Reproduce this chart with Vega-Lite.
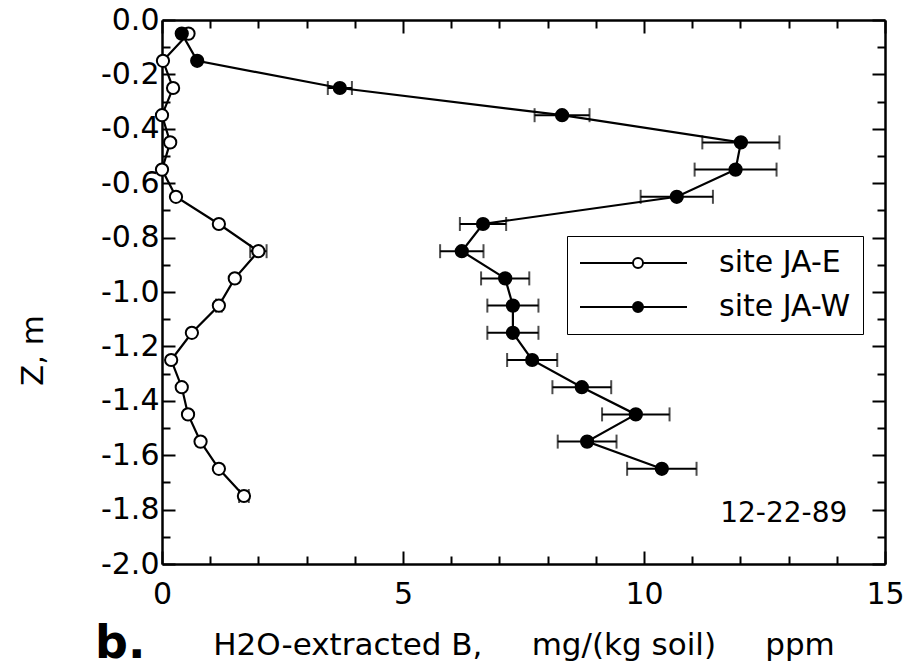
{
  "$schema": "https://vega.github.io/schema/vega-lite/v6.json",
  "width": 723,
  "height": 544,
  "autosize": {"type": "none"},
  "padding": {"left": 162, "top": 20, "right": 25, "bottom": 106},
  "background": "white",
  "title": {"text": "b.", "orient": "bottom", "anchor": "start", "frame": "group", "dx": -67, "offset": -2, "fontSize": 46, "fontWeight": "bold", "font": "DejaVu Sans", "baseline": "alphabetic", "color": "black"},
  "config": {
    "font": "DejaVu Sans",
    "view": {"stroke": null},
    "axis": {"domainColor": "black", "domainWidth": 2.5, "tickColor": "black", "tickWidth": 2, "labelColor": "black", "titleColor": "black", "labelFontSize": 30, "titleFontSize": 31, "titleFontWeight": "normal", "labelFont": "DejaVu Sans", "titleFont": "DejaVu Sans", "grid": false, "labelFlush": false, "labelOverlap": false}
  },
  "data": {"values": [
    {"site": "site JA-E", "z": -0.05, "b": 0.55, "err": 0},
    {"site": "site JA-E", "z": -0.15, "b": 0.02, "err": 0},
    {"site": "site JA-E", "z": -0.25, "b": 0.23, "err": 0},
    {"site": "site JA-E", "z": -0.35, "b": 0.0, "err": 0},
    {"site": "site JA-E", "z": -0.45, "b": 0.17, "err": 0},
    {"site": "site JA-E", "z": -0.55, "b": 0.0, "err": 0},
    {"site": "site JA-E", "z": -0.65, "b": 0.29, "err": 0},
    {"site": "site JA-E", "z": -0.75, "b": 1.18, "err": 0},
    {"site": "site JA-E", "z": -0.85, "b": 2.0, "err": 0.17},
    {"site": "site JA-E", "z": -0.95, "b": 1.51, "err": 0},
    {"site": "site JA-E", "z": -1.05, "b": 1.18, "err": 0.06},
    {"site": "site JA-E", "z": -1.15, "b": 0.62, "err": 0},
    {"site": "site JA-E", "z": -1.25, "b": 0.19, "err": 0},
    {"site": "site JA-E", "z": -1.35, "b": 0.41, "err": 0},
    {"site": "site JA-E", "z": -1.45, "b": 0.54, "err": 0},
    {"site": "site JA-E", "z": -1.55, "b": 0.8, "err": 0},
    {"site": "site JA-E", "z": -1.65, "b": 1.18, "err": 0},
    {"site": "site JA-E", "z": -1.75, "b": 1.7, "err": 0.1},
    {"site": "site JA-W", "z": -0.05, "b": 0.41, "err": 0},
    {"site": "site JA-W", "z": -0.15, "b": 0.73, "err": 0},
    {"site": "site JA-W", "z": -0.25, "b": 3.69, "err": 0.25},
    {"site": "site JA-W", "z": -0.35, "b": 8.3, "err": 0.57},
    {"site": "site JA-W", "z": -0.45, "b": 12.01, "err": 0.8},
    {"site": "site JA-W", "z": -0.55, "b": 11.9, "err": 0.85},
    {"site": "site JA-W", "z": -0.65, "b": 10.68, "err": 0.75},
    {"site": "site JA-W", "z": -0.75, "b": 6.66, "err": 0.48},
    {"site": "site JA-W", "z": -0.85, "b": 6.22, "err": 0.45},
    {"site": "site JA-W", "z": -0.95, "b": 7.12, "err": 0.5},
    {"site": "site JA-W", "z": -1.05, "b": 7.28, "err": 0.53},
    {"site": "site JA-W", "z": -1.15, "b": 7.28, "err": 0.53},
    {"site": "site JA-W", "z": -1.25, "b": 7.68, "err": 0.52},
    {"site": "site JA-W", "z": -1.35, "b": 8.71, "err": 0.61},
    {"site": "site JA-W", "z": -1.45, "b": 9.83, "err": 0.7},
    {"site": "site JA-W", "z": -1.55, "b": 8.82, "err": 0.61},
    {"site": "site JA-W", "z": -1.65, "b": 10.37, "err": 0.72}
  ]},
  "resolve": {"axis": {"x": "independent", "y": "independent"}},
  "layer": [
    {
      "mark": {"type": "line", "color": "black", "strokeWidth": 2.2},
      "encoding": {
        "x": {"field": "b", "type": "quantitative", "scale": {"domain": [0, 15], "nice": false, "zero": false},
          "axis": {"orient": "bottom", "values": [0,1,2,3,4,5,6,7,8,9,10,11,12,13,14,15],
            "labelExpr": "datum.value % 5 === 0 ? datum.label : ''",
            "tickSize": {"condition": {"test": "datum.value % 5 === 0", "value": -13}, "value": -8},
            "labelPadding": 28, "titlePadding": 16,
            "title": "H2O-extracted B,\u00a0\u00a0\u00a0\u00a0\u00a0mg/(kg soil)\u00a0\u00a0\u00a0\u00a0\u00a0ppm"}},
        "y": {"field": "z", "type": "quantitative", "scale": {"domain": [-2, 0], "nice": false, "zero": false},
          "axis": {"orient": "left", "values": [0,-0.1,-0.2,-0.3,-0.4,-0.5,-0.6,-0.7,-0.8,-0.9,-1.0,-1.1,-1.2,-1.3,-1.4,-1.5,-1.6,-1.7,-1.8,-1.9,-2.0],
            "labelExpr": "abs(round(datum.value*10)) % 2 === 0 ? replace(format(datum.value, '.1f'), '\u2212', '-') : ''",
            "tickSize": {"condition": {"test": "abs(round(datum.value*10)) % 2 === 0", "value": -13}, "value": -8},
            "labelPadding": 16,
            "title": "Z, m", "titleAngle": -90, "titleX": -129, "titleY": 330, "titleAlign": "center", "titleBaseline": "middle"}},
        "detail": {"field": "site"},
        "order": {"field": "z", "sort": "descending"}
      }
    },
    {
      "transform": [{"filter": "datum.err > 0"}],
      "mark": {"type": "errorbar", "color": "black", "ticks": {"size": 14, "thickness": 2, "color": "black"}, "rule": {"strokeWidth": 2, "color": "black"}},
      "encoding": {
        "x": {"field": "b", "type": "quantitative", "axis": null},
        "xError": {"field": "err"},
        "y": {"field": "z", "type": "quantitative", "axis": null}
      }
    },
    {
      "mark": {"type": "point", "filled": true, "stroke": "black", "strokeWidth": 2, "size": 150, "opacity": 1},
      "encoding": {
        "x": {"field": "b", "type": "quantitative",
          "axis": {"orient": "top", "values": [0,1,2,3,4,5,6,7,8,9,10,11,12,13,14,15], "labels": false, "title": null,
            "tickSize": {"condition": {"test": "datum.value % 5 === 0", "value": -13}, "value": -8}}},
        "y": {"field": "z", "type": "quantitative",
          "axis": {"orient": "right", "values": [0,-0.1,-0.2,-0.3,-0.4,-0.5,-0.6,-0.7,-0.8,-0.9,-1.0,-1.1,-1.2,-1.3,-1.4,-1.5,-1.6,-1.7,-1.8,-1.9,-2.0], "labels": false, "title": null,
            "tickSize": {"condition": {"test": "abs(round(datum.value*10)) % 2 === 0", "value": -13}, "value": -8}}},
        "fill": {"field": "site", "type": "nominal", "scale": {"domain": ["site JA-E", "site JA-W"], "range": ["white", "black"]},
          "legend": {"title": null, "orient": "none", "legendX": 405, "legendY": 216,
            "strokeColor": "black", "padding": 12,
            "labelFontSize": 30, "labelFont": "DejaVu Sans", "labelColor": "black", "labelLimit": 0,
            "symbolType": "M-11.6,0 L-1,0 M1,0 L9.8,0 M1,0 A1,1 0 1,1 -1,0 A1,1 0 1,1 1,0 Z",
            "symbolSize": 100, "symbolOffset": 44, "labelOffset": 66, "rowPadding": 14,
            "symbolStrokeWidth": 2, "symbolStrokeColor": "black",
            "encode": {
              "legend": {"update": {"strokeWidth": {"value": 2.5}}},
              "labels": {"update": {"text": {"signal": "datum.label + '\u00a0\u2009'"}}},
              "symbols": {"update": {"stroke": {"value": "black"}, "strokeWidth": {"value": 2}}}}}}
      }
    },
    {
      "data": {"values": [{"label": "12-22-89", "x": 12.9, "y": -1.815}]},
      "mark": {"type": "text", "fontSize": 28, "font": "DejaVu Sans", "align": "center", "baseline": "middle", "color": "black"},
      "encoding": {
        "x": {"field": "x", "type": "quantitative", "axis": null},
        "y": {"field": "y", "type": "quantitative", "axis": null},
        "text": {"field": "label"}
      }
    }
  ]
}
